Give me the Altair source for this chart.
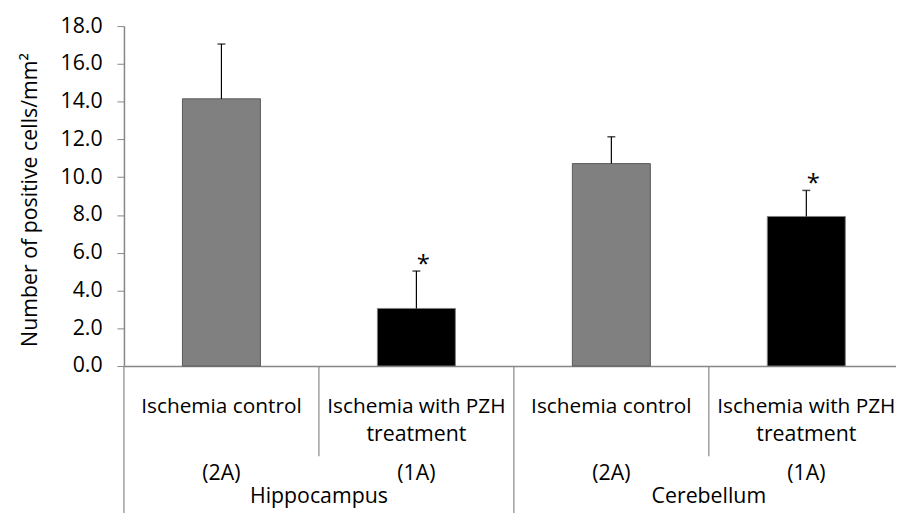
import altair as alt
import pandas as pd

# ---- data ----
groups = ["Hippocampus", "Cerebellum"]
line1 = ["Ischemia control", "Ischemia with PZH", "Ischemia control", "Ischemia with PZH"]
line2 = ["", "treatment", "", "treatment"]
codes = ["(2A)", "(1A)", "(2A)", "(1A)"]
kinds = ["control", "PZH", "control", "PZH"]
means = [14.15, 3.05, 10.72, 7.92]
upper_err = [2.90, 1.98, 1.42, 1.38]
stars = ["", "*", "", "*"]
y_ticks = [0, 2, 4, 6, 8, 10, 12, 14, 16, 18]

n = len(means)
df = pd.DataFrame({
    "pos": [i + 0.5 for i in range(n)],
    "line1": line1,
    "line2": line2,
    "code": codes,
    "kind": kinds,
    "mean": means,
    "err": upper_err,
    "star": stars,
})
df["top"] = df["mean"] + df["err"]
df["lo"] = df["pos"] - 0.2
df["hi"] = df["pos"] + 0.2

gdf = pd.DataFrame({"group": groups, "gpos": [2 * j + 1 for j in range(len(groups))]})
inner = pd.DataFrame({"b": [2 * j + 1 for j in range(len(groups))]})
outer = pd.DataFrame({"b": [2 * j for j in range(len(groups) + 1)]})

FONT = "Open Sans"
FS = 21.5
AXIS_GRAY = "#868686"

xs = alt.Scale(domain=[0, 3.96], nice=False, zero=False)
ys = alt.Scale(domain=[0, 18], nice=False)

x_axis = alt.Axis(ticks=False, labels=False, grid=False, title=None,
                  domainColor=AXIS_GRAY, domainWidth=1.5)
y_axis = alt.Axis(values=y_ticks, format=".1f", grid=False,
                  labelOverlap=False, labelBound=False,
                  tickSize=7, tickColor=AXIS_GRAY, tickWidth=1,
                  domainColor=AXIS_GRAY, domainWidth=1.5,
                  labelPadding=15,
                  title="Number of positive cells/mm²",
                  titleX=-88, titleY=175, titleBaseline="alphabetic",
                  titleAngle=-90)

base = alt.Chart(df)

bars = base.mark_bar(strokeWidth=1).encode(
    x=alt.X("lo:Q", scale=xs, axis=x_axis),
    x2="hi:Q",
    y=alt.Y("mean:Q", scale=ys, axis=y_axis),
    y2=alt.datum(0),
    fill=alt.Fill("kind:N", scale=alt.Scale(domain=["control", "PZH"], range=["#808080", "#000000"]), legend=None),
    stroke=alt.Stroke("kind:N", scale=alt.Scale(domain=["control", "PZH"], range=["#5a5a5a", "#808080"]), legend=None),
)

err_line = base.mark_rule(color="black", strokeWidth=1.2).encode(
    x=alt.X("pos:Q", scale=xs, axis=x_axis), y=alt.Y("mean:Q", scale=ys, axis=y_axis), y2="top:Q"
)
err_cap = base.mark_tick(orient="horizontal", size=8, thickness=1.5, color="black").encode(
    x=alt.X("pos:Q", scale=xs, axis=x_axis), y=alt.Y("top:Q", scale=ys, axis=y_axis)
)
star_txt = base.mark_text(font=FONT, fontSize=24, dx=7, dy=-6, color="black").encode(
    x=alt.X("pos:Q", scale=xs, axis=x_axis), y=alt.Y("top:Q", scale=ys, axis=y_axis), text="star:N"
)

t1 = base.mark_text(font=FONT, fontSize=21, color="black", baseline="alphabetic").encode(
    x=alt.X("pos:Q", scale=xs, axis=x_axis), y=alt.value(390), text="line1:N")
t2 = base.mark_text(font=FONT, fontSize=FS, color="black", baseline="alphabetic").encode(
    x=alt.X("pos:Q", scale=xs, axis=x_axis), y=alt.value(419), text="line2:N")
t3 = base.mark_text(font=FONT, fontSize=FS, color="black", baseline="alphabetic").encode(
    x=alt.X("pos:Q", scale=xs, axis=x_axis), y=alt.value(458), text="code:N")
tg = alt.Chart(gdf).mark_text(font=FONT, fontSize=FS, color="black", baseline="alphabetic").encode(
    x=alt.X("gpos:Q", scale=xs, axis=x_axis), y=alt.value(481), text="group:N")

sep_in = alt.Chart(inner).mark_rule(color=AXIS_GRAY, strokeWidth=1.2).encode(
    x=alt.X("b:Q", scale=xs, axis=x_axis), y=alt.value(343), y2=alt.value(434))
sep_out = alt.Chart(outer).mark_rule(color=AXIS_GRAY, strokeWidth=1.2).encode(
    x=alt.X("b:Q", scale=xs, axis=x_axis), y=alt.value(343), y2=alt.value(500))

chart = alt.layer(
    bars, err_line, err_cap, star_txt, sep_in, sep_out, t1, t2, t3, tg
).properties(
    width=779, height=343,
    autosize=alt.AutoSizeParams(type="none"),
    padding={"left": 117, "top": 16, "right": 0, "bottom": 146},
).configure_axis(
    labelFont=FONT, labelFontSize=FS, labelColor="black",
    titleFont=FONT, titleFontSize=FS, titleColor="black", titleFontWeight="normal",
).configure_view(stroke=None)

chart.save("out.html", embed_options={"renderer": "svg", "actions": False})
